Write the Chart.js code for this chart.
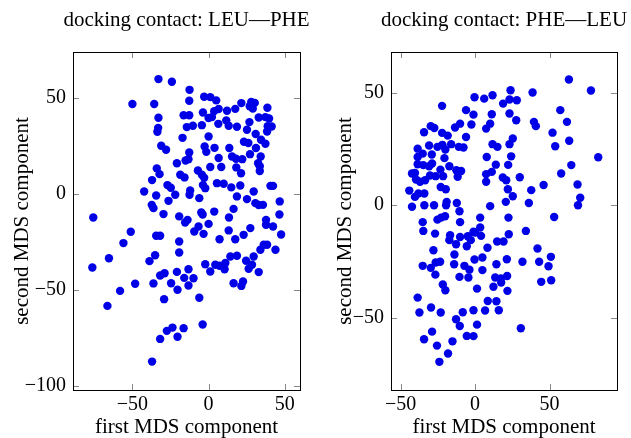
<!DOCTYPE html>
<html>
<head>
<meta charset="utf-8">
<script src="https://cdn.jsdelivr.net/npm/chart.js@4.4.0/dist/chart.umd.min.js"></script>
<style>
  body { margin: 0; background: #fff; }
  #wrap { position: relative; width: 631px; height: 438px; }
  canvas { position: absolute; top: 0; }
</style>
</head>
<body>
<div id="wrap">
  <canvas id="leuPhe" width="315" height="438" style="left:0"></canvas>
  <canvas id="pheLeu" width="316" height="438" style="left:315px"></canvas>
</div>
<script>
// panel titles and axis labels
var titles = ['docking contact: LEU\u2014PHE', 'docking contact: PHE\u2014LEU'];
var xLabel = 'first MDS component';
var yLabel = 'second MDS component';

// tick labels
var leuPheXTicks = [-50, 0, 50];
var leuPheYTicks = [-100, -50, 0, 50];
var pheLeuXTicks = [-50, 0, 50];
var pheLeuYTicks = [-50, 0, 50];

// [first MDS, second MDS]
var leuPhePoints = [
  [-32.9,59.9],[-24.1,58.5],[-12.5,54.3],[-12.7,48.6],[-50,46.9],[-35.7,46.9],[-2.9,50.7],[1.1,50.5],[5,48.8],
  [21.5,47.4],[28,48],[30.3,47.5],[27,45.8],[29,44.5],[38.6,45],[17.5,44.4],[12.1,43.4],[6.6,44.3],[3.7,43.2],
  [-3.7,42.5],[-16.4,41.1],[-12.7,41.1],[-32.9,39.8],[0,39.6],[2.2,40.1],[32.9,39.9],[37.3,40.1],[39.7,39.4],
  [26.8,37.5],[6.4,36.6],[11.6,38.4],[13.2,35.6],[18.6,35.1],[-14.3,34.9],[-10.3,35.6],[-4.4,35.9],[-33.1,34.5],
  [-33.6,32.5],[38.8,35.4],[41.4,35.2],[38.4,32.6],[25.2,33.5],[30.9,31.3],[-17.1,29.3],[0,30],[23.2,27.3],
  [26.1,26.6],[34.4,28.3],[37.3,26.2],[-31.1,25.2],[-27.9,23.1],[-2.6,24.8],[-1.5,22],[3.9,24.1],[13.6,24],
  [31.1,24],[-12.7,21.7],[27.2,20.8],[34.2,19.6],[15.4,19.6],[18,18.4],[22.1,18.2],[6.6,18.8],[-20.8,16.1],
  [-15.1,17.5],[-13.2,18.2],[32.5,16.1],[33.6,14.5],[1.1,14.1],[8.3,14.1],[18.2,13.9],[21.3,10.9],[-34,13.4],
  [-32.2,10.4],[-7,12.3],[-4.4,10.1],[-2.9,8.5],[33.6,12],[-18.6,10.1],[-15.8,8.7],[-37.1,7.3],[5.5,5.7],
  [9.9,5.4],[14.9,3.5],[20.8,4.5],[-27,4.7],[-24.8,3.3],[-3.7,4.7],[-2.2,3.1],[40.6,4.3],[42.3,4.3],[-42.3,1.4],
  [-12.1,1.9],[-12.5,-0.3],[-34.4,-0.7],[-21.9,-0.3],[-6.1,-2.1],[29.6,1.4],[18.6,-1.2],[25.2,-2.6],[-26.3,-3.5],
  [-37.3,-5.6],[-36.2,-7.3],[30.7,-4.7],[32.9,-5.7],[35.7,-5.6],[46.7,-3.8],
  [-75.7,-12.2],[-29.6,-10.4],[-19.3,-11.6],[-13.8,-13.4],[-15.4,-14.8],[-4.8,-9.6],[-3.9,-10.6],[3.7,-9.1],
  [13.4,-12.2],[16.4,-7.7],[37.7,-13.4],[37.7,-16],[42.3,-16.9],[46.5,-10.6],[-6.6,-16.9],[-9.4,-19.5],
  [-3.3,-20.7],[0,-15.5],[13.2,-18.9],[27.4,-17.7],[23,-21.2],[7.2,-23.5],[17.5,-23.5],[47.6,-21],[-51.1,-19.6],
  [-55.9,-25.5],[-34.4,-21.7],[-31.8,-21.7],[-19.3,-24.7],[-19.3,-30.4],[-35.1,-31.8],[-38.8,-34.9],[-65.4,-33.4],
  [-76.3,-38.2],[36.2,-26.4],[38.4,-26.4],[34,-29],[43.9,-29],[29.6,-32.5],[14.3,-32.5],[18.6,-32.1],[11,-35.9],
  [24.6,-34.7],[28.5,-36.8],[26.3,-38.9],[32.9,-40.6],[-2.2,-36.5],[1.1,-40.3],[4.4,-36.8],[7.2,-37.3],[10.5,-39.1],
  [-13.2,-39.1],[-16,-43.6],[-9.9,-43.8],[-13.2,-47.6],[-20.8,-40.5],[-24.6,-46.4],[-20.4,-49.8],[-31.8,-42.4],
  [-28.9,-41.2],[-36.2,-46.5],[-48.2,-46.7],[-58.1,-50.4],[-66.4,-58.2],[-29.2,-54.7],[-6.1,-54],[16.4,-46.4],
  [22.6,-45.5],[21.5,-47.8],[-3.9,-67.9],[-16.4,-69.8],[-23.7,-69.5],[-27.4,-71.2],[-31.8,-75.4],[-20.4,-74.3],
  [-37.1,-87.2]
];

var pheLeuPoints = [
  [63,55.8],[77.8,50.9],[38.6,50],[23.8,51],[23.1,46.9],[28,46.6],[18.8,45.1],[11.7,48.8],[6.1,47.3],[-0.4,47.9],
  [-22.2,44.1],[-6.1,42.2],[-1.1,40.2],[11.2,40.4],[23.1,40.7],[57.2,42.2],[27.6,37.7],[39.5,37],[40.8,35.1],
  [61.7,37],[10.1,36.2],[7.4,34],[-2.5,35.8],[-10.1,36.2],[-13.5,34.5],[-29.8,35.1],[-27.4,34.3],[-34.3,32.4],
  [-22.2,32.1],[-18.4,30.9],[-16.1,27.1],[-6.1,30.3],[52,32.2],[53.8,26.2],[63.2,28.6],[25.3,29.6],[23.1,27.1],
  [11.7,27.1],[15,25.9],[-11,25.9],[-7.8,25.6],[-30.9,26.5],[-25.3,25.9],[-22,26.8],[-20,24.7],[-38.6,25.1],
  [-35.2,22.9],[-29.1,22.5],[-38.6,21.4],[-20.6,20.9],[7.8,21.4],[24.2,21.7],[82.7,21.3],[-38.6,18.2],[-34.8,17.8],
  [-30.9,17.3],[-28.9,18.5],[-17.3,17.3],[-23.3,15.8],[13.9,18],[22.2,17.9],[64.6,17.8],[-12.6,15.5],[-9.4,15.2],
  [-11.7,12.6],[-42.4,14.1],[-40.4,14.3],[-39.7,11.4],[-30.3,13.2],[-26.5,12.9],[-21.5,12.9],[11.2,14.8],[7.4,13.8],
  [7.4,10.4],[18.6,12.3],[20.9,11.1],[30,12.4],[57.8,14.1],[-37,10.4],[-33.6,11.1],[-23.1,8.1],[-19.7,7.1],[22,7.1],
  [46,9],[37.7,6.7],[68.8,9.2],[-44.2,6.5],[-40.4,3.7],[-38.1,5.2],[-34.1,5.2],[25.3,4],[-19.1,1.5],[-12.3,1],
  [-19.5,0],[20.6,1.5],[36.1,1],[70.6,3.3],[69.1,0],[-42.4,-0.7],[-34.1,0],[-27.6,0],[10.1,-0.4],[-10.5,-2.7],
  [3.4,-5.5],[22.4,-5.5],[53.1,-5.2],[-20.2,-4.9],[-22.9,-5.5],[-25.3,-6.4],[-35.2,-7.5],[-34.8,-11.4],[-10.1,-7.5],
  [-26.9,-12.6],[3.4,-9.9],[-1.1,-11.8],[0,-12.1],[4,-13.6],[22.6,-12.9],[34.1,-11.4],[-16.8,-13.3],[-17.3,-15.5],
  [-12.8,-17.3],[-10.1,-14.1],[-4.9,-13.8],[-2.9,-15.5],[-5.6,-18.2],[14.8,-16.1],[19.1,-16.1],[8.3,-18.9],
  [-28,-20],[41.9,-19.2],[-35.2,-26.9],[-29.8,-27.8],[-26.5,-25.4],[-23.5,-25.1],[-26.7,-30.8],[-13.9,-21.9],
  [-14.1,-26.2],[-0.4,-24.1],[4.9,-23.2],[-7.2,-26.9],[-3.8,-28.6],[-4.5,-32.1],[-10.5,-31.8],[4.9,-28.8],
  [14.3,-26.2],[21.3,-24],[31.8,-25.1],[43,-25.1],[49.3,-27.1],[50.9,-22.9],[13.5,-32.1],[17.3,-32.5],[21.5,-31.4],
  [17.5,-34.3],[44.4,-34],[51.1,-33.3],[-21.7,-35.2],[-20,-37.7],[1.3,-37],[12.3,-36.2],[21.7,-38],[-38.6,-41],
  [-37.4,-47.6],[-29.6,-45.4],[-23.1,-47.6],[8.5,-42.5],[14.3,-42.6],[6.7,-46.7],[15.9,-46.6],[-1.1,-46.6],
  [-8.3,-47.5],[-12.8,-50.6],[-10.3,-53.6],[1.3,-53],[30.7,-54.6],[-28.9,-56.1],[-34.3,-59.5],[-5.6,-58],
  [-1.1,-58.1],[-15.2,-60.4],[-25.6,-62.3],[-18.2,-65.8],[-24,-69.5]
];

var serif = "'Liberation Serif', 'Times New Roman', serif";

// box round the plot, tick marks pointing inwards on all four sides,
// and the panel title centred over the plot area (as pgfplots does)
var frame = {
  id: 'frame',
  afterDatasetsDraw: function(chart, args, opts) {
    var ctx = chart.ctx, a = chart.chartArea;
    var sx = chart.scales.x, sy = chart.scales.y;
    ctx.save();
    ctx.strokeStyle = '#888';
    ctx.lineWidth = 1;
    ctx.beginPath();
    sx.ticks.forEach(function(t) {
      var p = Math.round(sx.getPixelForValue(t.value)) + 0.5;
      ctx.moveTo(p, a.bottom); ctx.lineTo(p, a.bottom - 6);
      ctx.moveTo(p, a.top); ctx.lineTo(p, a.top + 6);
    });
    sy.ticks.forEach(function(t) {
      var p = Math.round(sy.getPixelForValue(t.value)) + 0.5;
      ctx.moveTo(a.left, p); ctx.lineTo(a.left + 6, p);
      ctx.moveTo(a.right, p); ctx.lineTo(a.right - 6, p);
    });
    ctx.stroke();
    ctx.strokeStyle = '#000';
    ctx.strokeRect(Math.round(a.left) + 0.5, Math.round(a.top) + 0.5,
                   Math.round(a.right - a.left), Math.round(a.bottom - a.top));
    ctx.fillStyle = '#000';
    ctx.font = '21px ' + serif;
    ctx.textAlign = 'center';
    ctx.textBaseline = 'middle';
    ctx.fillText(opts.text, (a.left + a.right) / 2, 20);
    ctx.restore();
  }
};

function minus(v) { return String(v).replace('-', '\u2212'); }

function makeChart(id, title, points, xr, yr, xTicks, yTicks, yWidth, yTitlePad, padRight) {
  return new Chart(document.getElementById(id), {
    type: 'scatter',
    data: {
      datasets: [{
        data: points.map(function(p) { return { x: p[0], y: p[1] }; }),
        backgroundColor: '#0000e6',
        borderColor: '#0000e6',
        borderWidth: 0,
        pointRadius: 4.2,
        pointHoverRadius: 4.2
      }]
    },
    options: {
      responsive: false,
      devicePixelRatio: 1,
      animation: false,
      layout: { padding: { left: 0, right: padRight, top: 52, bottom: 0 } },
      plugins: {
        legend: { display: false },
        tooltip: { enabled: false },
        title: { display: false },
        frame: { text: title }
      },
      scales: {
        x: {
          type: 'linear',
          min: xr[0], max: xr[1],
          grid: { display: false, drawTicks: false },
          border: { display: false },
          afterBuildTicks: function(s) { s.ticks = xTicks.map(function(v) { return { value: v }; }); },
          afterFit: function(s) { s.height = 48; },
          ticks: {
            color: '#000',
            padding: 5,
            includeBounds: false,
            font: { family: serif, size: 20, lineHeight: 1 },
            callback: minus
          },
          title: {
            display: true, text: xLabel, color: '#000',
            font: { family: serif, size: 21, lineHeight: 1 },
            padding: { top: 0, bottom: 0 }
          }
        },
        y: {
          type: 'linear',
          min: yr[0], max: yr[1],
          grid: { display: false, drawTicks: false },
          border: { display: false },
          afterBuildTicks: function(s) { s.ticks = yTicks.map(function(v) { return { value: v }; }); },
          afterFit: function(s) { s.width = yWidth; },
          ticks: {
            color: '#000',
            padding: 7,
            includeBounds: false,
            font: { family: serif, size: 20, lineHeight: 1 },
            callback: minus
          },
          title: {
            display: true, text: yLabel, color: '#000',
            font: { family: serif, size: 21, lineHeight: 1 },
            padding: { top: yTitlePad, bottom: 0 }
          }
        }
      }
    },
    plugins: [frame]
  });
}

makeChart('leuPhe', titles[0], leuPhePoints, [-89, 60], [-102, 74], leuPheXTicks, leuPheYTicks, 73, 12, 15);
makeChart('pheLeu', titles[1], pheLeuPoints, [-56.5, 95.3], [-82, 68], pheLeuXTicks, pheLeuYTicks, 76, 20, 14);
</script>
</body>
</html>
